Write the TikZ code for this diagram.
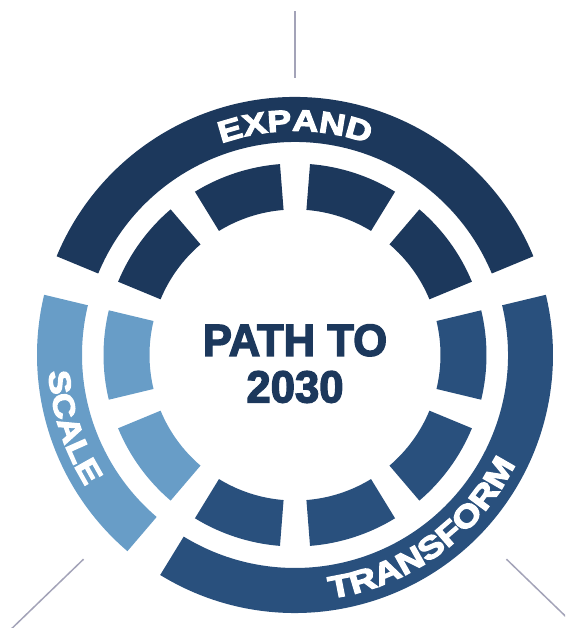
\documentclass[tikz,border=0pt]{standalone}
\usepackage{fontspec}
\usepackage{xcolor}
\usepackage{tikz}
\usetikzlibrary{decorations.text}
\setmainfont{Liberation Sans}
\newfontfamily\hubfont[FakeStretch=0.97,FakeBold=3]{Liberation Sans Bold}
\newfontfamily\arcfont[FakeStretch=1.2,FakeBold=4]{Liberation Sans Bold}
\definecolor{NavyBlue}{RGB}{28, 56, 92}
\definecolor{MidBlue}{RGB}{41, 80, 125}
\definecolor{SkyBlue}{RGB}{104, 157, 199}
\definecolor{TickGray}{RGB}{163, 163, 184}

\begin{document}
\begin{tikzpicture}[
    tick/.style={draw=TickGray, line width=1.5pt},
    arclabel/.style={decorate, decoration={text along path, text align=center, text color=white, text={#1}}}
  ]
  \clip (-295pt,-273pt) rectangle (270pt,355pt);

  % inner ring: ten blocks
  \foreach \a/\c in {0/MidBlue, 36/NavyBlue, 72/NavyBlue, 108/NavyBlue, 144/NavyBlue,
                     180/SkyBlue, 216/SkyBlue, 252/MidBlue, 288/MidBlue, 324/MidBlue}
    \fill[\c] (\a-13.5:191.5pt) arc[start angle=\a-13.5, end angle=\a+13.5, radius=191.5pt]
      -- (\a+13.5:145.5pt) arc[start angle=\a+13.5, end angle=\a-13.5, radius=145.5pt] -- cycle;

  % outer ring: three phases
  \foreach \s/\e/\c in {22.5/157.5/NavyBlue, 166.5/229.5/SkyBlue, 238.5/373.5/MidBlue}
    \fill[\c] (\s:258pt) arc[start angle=\s, end angle=\e, radius=258pt]
      -- (\e:213pt) arc[start angle=\e, end angle=\s, radius=213pt] -- cycle;

  \path[arclabel={|\arcfont\fontsize{30}{30}\selectfont|EXPAND}]
    (157.5:224pt) arc[start angle=157.5, end angle=22.5, radius=224pt];
  \path[arclabel={|\arcfont\fontsize{30}{30}\selectfont|SCALE}]
    (166.5:247pt) arc[start angle=166.5, end angle=229.5, radius=247pt];
  \path[arclabel={|\arcfont\fontsize{31}{31}\selectfont|TRANSFORM}]
    (238.5:246pt) arc[start angle=238.5, end angle=373.5, radius=246pt];

  \node[text=NavyBlue, align=center, inner sep=0pt,
        font=\hubfont\fontsize{45}{46.6}\selectfont] (hub) at (0pt,-8.7pt) {PATH TO\\2030};

  % pointer ticks
  \coordinate (topA) at (90:277pt);
  \coordinate (topB) at (90:344pt);
  \coordinate (leftA) at (224:294pt);
  \coordinate (leftB) at (224:400pt);
  \coordinate (rightA) at (316:294pt);
  \coordinate (rightB) at (316:400pt);
  \draw[tick] (topA) -- (topB);
  \draw[tick] (leftA) -- (leftB);
  \draw[tick] (rightA) -- (rightB);
\end{tikzpicture}
\end{document}
